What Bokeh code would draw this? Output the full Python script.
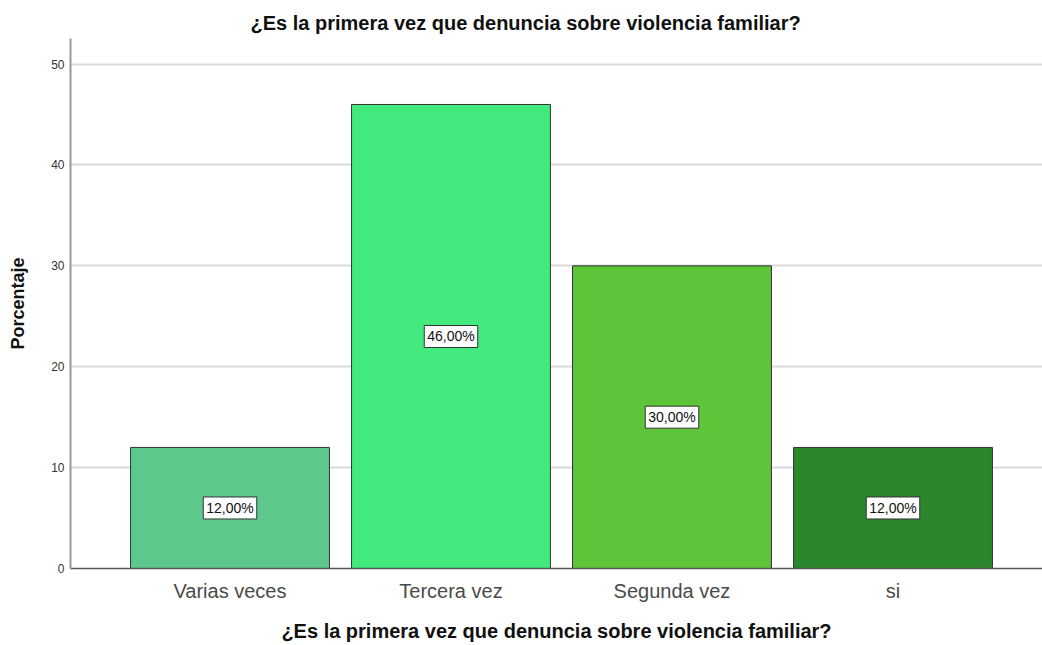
from bokeh.plotting import figure
from bokeh.models import ColumnDataSource, FixedTicker, Range1d
from bokeh.core.properties import value
from bokeh.embed import file_html
from bokeh.resources import INLINE

title_text = "¿Es la primera vez que denuncia sobre violencia familiar?"
categories = ["Varias veces", "Tercera vez", "Segunda vez", "si"]
percentages = [12.0, 46.0, 30.0, 12.0]
colors = ["#5DC88B", "#42EA7E", "#5EC43A", "#2A872C"]
y_ticks = [0, 10, 20, 30, 40, 50]

x = list(range(len(categories)))
labels = [f"{v:.2f}%".replace(".", ",") for v in percentages]
src = ColumnDataSource(dict(x=x, top=percentages, mid=[v / 2 for v in percentages],
                            color=colors, label=labels))

FONT = "Liberation Sans"

p = figure(width=1042, height=645, output_backend="svg", toolbar_location=None,
           x_range=Range1d(-0.7217, 3.6765), y_range=Range1d(0, 52.54),
           min_border_left=70, min_border_right=0, min_border_top=38, min_border_bottom=77)

p.title.text = title_text
p.title.align = "left"
p.title.offset = 180
p.title.text_font = FONT
p.title.text_font_size = "20px"
p.title.text_font_style = "bold"
p.title.text_color = "#111111"

p.vbar(x="x", top="top", width=0.9, bottom=0, fill_color="color",
       line_color="#333333", line_width=1, source=src)

p.text(x="x", y="mid", text="label", source=src,
       text_align="center", text_baseline="middle",
       text_font=value(FONT), text_font_size="14px", text_color="#111111",
       background_fill_color="white", border_line_color="#333333",
       padding=3)

xa = p.xaxis[0]
xa.ticker = FixedTicker(ticks=x)
xa.major_label_overrides = {i: c for i, c in zip(x, categories)}
xa.major_tick_line_color = None
xa.major_tick_out = 0
xa.major_tick_in = 0
xa.minor_tick_line_color = None
xa.axis_line_color = "#555555"
xa.axis_line_width = 1.5
xa.major_label_text_font = FONT
xa.major_label_text_font_size = "20px"
xa.major_label_text_color = "#4a4a4a"
xa.major_label_standoff = 11
xa.axis_label = title_text
xa.axis_label_text_font = FONT
xa.axis_label_text_font_size = "20px"
xa.axis_label_text_font_style = "bold"
xa.axis_label_text_color = "#111111"
xa.axis_label_standoff = 15

ya = p.yaxis[0]
ya.ticker = FixedTicker(ticks=y_ticks)
ya.major_tick_line_color = None
ya.major_tick_out = 0
ya.major_tick_in = 0
ya.minor_tick_line_color = None
ya.axis_line_color = "#999999"
ya.axis_line_width = 2
ya.major_label_text_font = FONT
ya.major_label_text_font_size = "12px"
ya.major_label_text_color = "#333333"
ya.major_label_standoff = 6
ya.axis_label = "Porcentaje"
ya.axis_label_text_font = FONT
ya.axis_label_text_font_size = "18px"
ya.axis_label_text_font_style = "bold"
ya.axis_label_text_color = "#111111"
ya.axis_label_standoff = 20

p.xgrid.grid_line_color = None
p.ygrid.ticker = FixedTicker(ticks=y_ticks)
p.ygrid.grid_line_color = "#d9d9d9"
p.ygrid.grid_line_width = 2
p.outline_line_color = None
p.background_fill_color = "white"
p.border_fill_color = "white"

open("out.html", "w").write(file_html(p, INLINE))
